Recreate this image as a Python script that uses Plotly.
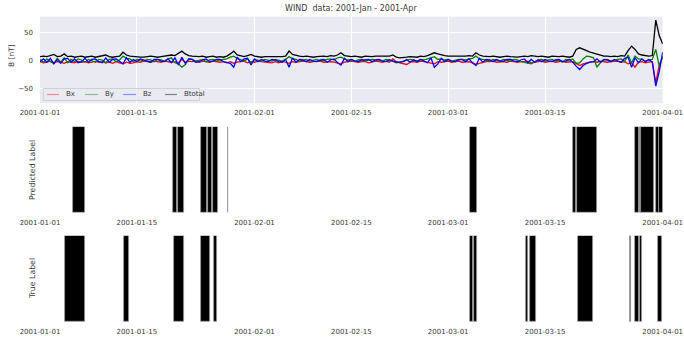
import pandas as pd
import plotly.graph_objects as go

# ---- magnetic field series (12-hour samples, 2001-01-01 .. 2001-04-01) ----
bx = [-2, -4, -3, -1, -4, -2, -3, -5, -2, -3, -4, -1, -3, -2, -4, -3, -1, -3, -2, -4,
      -3, -5, -2, -4, -6, -3, -5, -4, -2, -3, -1, -2, -3, -1, -2, -3, -1, -2, -3, -2,
      -4, 2, -3, -1, -2, -1, -3, -1, -2, -3, -1, -2, -3, -2, -4, -2, -5, -3, -2, -1,
      -4, -2, -3, -1, -2, -3, -3, -4, -2, -4, -1, -3, -5, -2, -3, -2, -1, -2, -3, -2,
      -2, -1, -3, -2, -2, -3, -4, -6, -3, -2, -1, -2, -3, -2, -2, -4, -3, -1, -2, -3,
      -1, -3, 3, -2, -4, -6, -7, -3, -2, -3, -1, -2, -3, -5, -6, -2, -3, -2, -1, -3,
      -2, -1, -3, -2, -2, -4, -7, -5, -3, -2, -2, -1, -3, -2, -2, -3, -1, -2, -3, -2,
      -2, -1, -4, -3, -2, -1, -3, -2, -1, -3, -2, -1, -3, -2, -2, -5, -9, -6, -4, -3,
      -2, -3, -1, -2, -3, -2, -2, -1, -3, -2, -6, -4, -12, -3, -2, -4, -3, -2, -40, -8,
      5]
by = [2, -3, 3, -2, -5, 4, -3, 5, -4, 2, -2, 3, 1, -3, 2, -1, -3, 2, 1, -4,
      2, 3, -2, 1, 8, 4, 3, -2, 2, 1, -1, 2, 1, -2, 2, 1, -1, 3, 5, -4,
      -6, -12, -7, 3, 2, -1, 1, 2, -2, 1, 2, -1, 1, 2, 3, 6, 8, 4, 2, -1,
      3, -4, 2, 1, -1, 2, 1, -1, 2, 1, -1, 2, 7, 3, 2, -1, 1, 2, -1, 1,
      2, -1, 1, 2, 3, 1, 5, 6, 3, 1, 2, -1, 1, 2, -1, 1, 2, 1, 1, -1,
      2, 1, -2, -4, -3, -1, 1, 2, 1, -1, 2, 1, 3, 5, 7, 2, 3, 1, 2, -1,
      1, 2, 2, 1, 3, 4, 8, 3, 2, 1, -1, 2, 1, -1, 2, 1, -1, 2, 1, -2,
      -3, -5, -6, -2, 1, 2, -1, 1, 2, -1, 1, -3, 2, 1, 3, -5, -4, 3, 8, 7,
      5, -12, -4, 1, 2, -1, 1, 2, 3, -2, 10, -4, 8, 3, 2, -1, 1, 2, 20, -10,
      8]
bz = [-2, 3, -3, 4, -6, 2, -5, 3, 4, -3, 3, -4, -2, 4, -3, 2, 3, -2, -4, 5,
      -3, 2, 3, -2, -6, 5, -3, 2, -2, 3, 1, -2, -3, 2, 2, -1, -2, 3, -4, 5,
      -8, 6, -5, 3, 2, -3, -2, 1, 3, -2, -1, 2, 2, -2, -3, -5, -12, 6, -2, 3,
      4, -8, 3, -2, 2, -1, -2, 2, 1, -2, -3, 2, -12, 5, -3, 2, 1, -2, 2, -1,
      -2, 1, 2, -3, 1, 3, -4, -8, 4, -2, 2, -1, -2, 1, 1, 2, -2, 1, 2, -1,
      -2, 1, -1, -3, -3, -2, 2, -3, 1, -2, 2, -1, -4, 5, -12, -6, 4, -2, 2, -1,
      -2, 1, 2, -2, 3, -4, -9, 4, -3, 2, 1, -2, 2, -1, -1, 2, 2, -1, -2, 1,
      3, -4, 2, -3, 1, -2, 2, -1, -2, 1, 2, -2, -1, 2, -3, -10, -16, -9, -5, -3,
      -2, 3, -3, 2, 1, -2, 2, -1, -3, 4, 6, -12, 5, -4, 3, -2, 2, -3, -46, -20,
      15]
btotal = [7, 8, 7, 9, 11, 7, 8, 12, 7, 8, 6, 7, 8, 6, 7, 8, 6, 7, 8, 10,
          7, 6, 7, 8, 15, 10, 8, 7, 7, 6, 6, 7, 8, 7, 6, 7, 8, 9, 10, 9,
          13, 17, 12, 9, 8, 7, 7, 8, 6, 7, 8, 6, 7, 6, 8, 12, 17, 10, 8, 7,
          9, 11, 8, 7, 6, 7, 7, 6, 6, 7, 7, 8, 17, 11, 9, 8, 7, 8, 7, 6,
          7, 8, 8, 7, 9, 8, 10, 14, 9, 8, 7, 8, 7, 6, 8, 7, 7, 8, 8, 7,
          7, 8, 10, 6, 5, 5, 6, 7, 7, 6, 8, 7, 9, 11, 14, 12, 10, 9, 8, 8,
          7, 8, 7, 8, 9, 8, 14, 10, 8, 7, 7, 8, 7, 6, 7, 8, 7, 6, 6, 7,
          8, 7, 9, 8, 7, 8, 7, 6, 8, 7, 7, 8, 7, 6, 8, 20, 23, 21, 18, 15,
          13, 12, 9, 8, 8, 7, 8, 7, 9, 8, 18, 26, 20, 12, 10, 9, 8, 9, 73, 45,
          30]
times = pd.date_range("2001-01-01", periods=len(bx), freq="12h")

# ---- event intervals ----
pred_start = ["2001-01-05 19:40", "2001-01-20 06:30", "2001-01-20 21:35", "2001-01-24 06:30",
              "2001-01-25 06:40", "2001-01-26 01:10", "2001-01-28 04:30", "2001-03-04 03:36",
              "2001-03-18 23:30", "2001-03-19 14:25", "2001-03-27 22:50", "2001-03-28 16:05",
              "2001-03-28 22:20", "2001-03-31 02:25", "2001-03-31 12:00"]
pred_end = ["2001-01-07 12:00", "2001-01-20 19:10", "2001-01-21 20:40", "2001-01-25 04:20",
            "2001-01-25 21:35", "2001-01-26 16:20", "2001-01-28 05:00", "2001-03-05 03:50",
            "2001-03-19 11:00", "2001-03-22 12:00", "2001-03-28 14:25", "2001-03-28 20:25",
            "2001-03-30 16:50", "2001-03-31 10:50", "2001-04-01 00:00"]
true_start = ["2001-01-04 15:50", "2001-01-13 02:25", "2001-01-20 08:53", "2001-01-24 07:12",
              "2001-01-26 02:25", "2001-03-04 03:36", "2001-03-04 16:19", "2001-03-12 05:46",
              "2001-03-12 19:41", "2001-03-19 19:12", "2001-03-27 05:17", "2001-03-27 22:48",
              "2001-03-28 17:17", "2001-03-31 06:29"]
true_end = ["2001-01-07 13:10", "2001-01-13 19:10", "2001-01-21 18:29", "2001-01-25 13:40",
            "2001-01-26 13:55", "2001-03-04 12:43", "2001-03-05 02:38", "2001-03-12 11:31",
            "2001-03-13 17:31", "2001-03-21 23:17", "2001-03-27 09:36", "2001-03-28 14:24",
            "2001-03-28 23:02", "2001-03-31 21:36"]

tick_vals = ["2001-01-01", "2001-01-15", "2001-02-01", "2001-02-15",
             "2001-03-01", "2001-03-15", "2001-04-01"]
title_text = "WIND  data: 2001-Jan - 2001-Apr"

W, H = 684, 337
FONT = "DejaVu Sans"
TXT = "#3a3a3a"

fig = go.Figure()

series = [("Bx", bx, "red", "rgba(255,0,0,0.4)"),
          ("By", by, "green", "rgba(0,128,0,0.4)"),
          ("Bz", bz, "blue", "rgba(0,0,255,0.4)"),
          ("Btotal", btotal, "black", "rgba(0,0,0,0.45)")]
for name, vals, col, lcol in series:
    fig.add_trace(go.Scatter(x=times, y=vals, mode="lines", name=name,
                             line=dict(color=col, width=1.3),
                             showlegend=False, xaxis="x", yaxis="y"))


def add_bars(starts, ends, xa, ya):
    s = pd.to_datetime(starts)
    e = pd.to_datetime(ends)
    widths = [(b - a).total_seconds() * 1000 for a, b in zip(s, e)]
    fig.add_trace(go.Bar(x=list(s), y=[1] * len(s), width=widths, offset=0,
                         marker=dict(color="black", line=dict(color="#999999", width=0.8)),
                         showlegend=False, xaxis=xa, yaxis=ya))


add_bars(pred_start, pred_end, "x2", "y2")
add_bars(true_start, true_end, "x3", "y3")

x0, x1 = 40 / W, 662.7 / W


def ydom(top, bot):
    return [1 - bot / H, 1 - top / H]


xcommon = dict(type="date", range=["2001-01-01", "2001-04-01"], tickvals=tick_vals,
               tickformat="%Y-%m-%d", domain=[x0, x1], ticks="", showline=False,
               zeroline=False, tickfont=dict(size=7, color=TXT, family=FONT),
               ticklabelstandoff=4, automargin=False)

fig.update_layout(
    width=W, height=H, margin=dict(l=0, r=0, t=0, b=0, autoexpand=False),
    paper_bgcolor="white", plot_bgcolor="white",
    font=dict(family=FONT, color=TXT, size=7),
    bargap=0, barmode="overlay", showlegend=False,
    xaxis=dict(**xcommon, anchor="y", showgrid=True, gridcolor="white", gridwidth=1),
    yaxis=dict(domain=ydom(16.7, 103.3), range=[-77, 79], tickvals=[-50, 0, 50],
               showgrid=True, gridcolor="white", gridwidth=1, zeroline=False,
               ticks="", tickfont=dict(size=7, color=TXT, family=FONT),
               ticklabelstandoff=6, anchor="x", automargin=False),
    xaxis2=dict(**xcommon, anchor="y2", showgrid=False),
    yaxis2=dict(domain=ydom(126.7, 212.7), range=[0, 1], visible=False, anchor="x2",
                automargin=False),
    xaxis3=dict(**xcommon, anchor="y3", showgrid=False),
    yaxis3=dict(domain=ydom(235.7, 322), range=[0, 1], visible=False, anchor="x3",
                automargin=False),
)

top_dom = ydom(16.7, 103.3)
fig.add_shape(type="rect", xref="paper", yref="paper", x0=x0, x1=x1,
              y0=top_dom[0], y1=top_dom[1],
              fillcolor="#EAEAF2", line=dict(width=0), layer="below")


def px(xp):
    return xp / W


def py(yp):
    return 1 - yp / H


# ---- legend box (drawn by hand to match the compact layout) ----
fig.add_shape(type="rect", xref="paper", yref="paper", x0=px(43.3), x1=px(199.5),
              y0=py(100.5), y1=py(88.5), fillcolor="rgba(234,234,242,0.85)",
              line=dict(color="#cfcfd6", width=1))
leg_line_x = [(47, 59), (85, 98), (123, 136), (165, 177)]
leg_text_x = [63.5, 102.5, 141, 181.5]
for (name, vals, col, lcol), (lx0, lx1), tx in zip(series, leg_line_x, leg_text_x):
    fig.add_shape(type="line", xref="paper", yref="paper", x0=px(lx0), x1=px(lx1),
                  y0=py(94.5), y1=py(94.5), line=dict(color=lcol, width=1.2))
    fig.add_annotation(text=name, xref="paper", yref="paper", x=px(tx), y=py(94.5),
                       xanchor="left", yanchor="middle", showarrow=False,
                       font=dict(size=7, color=TXT, family=FONT))

fig.add_annotation(text=title_text, xref="paper", yref="paper", x=(x0 + x1) / 2, y=py(8),
                   xanchor="center", yanchor="middle",
                   showarrow=False, font=dict(size=8, color=TXT, family=FONT))
fig.add_annotation(text="B [nT]", xref="paper", yref="paper", x=px(12), y=py(56),
                   xanchor="center", yanchor="middle",
                   textangle=-90, showarrow=False, font=dict(size=7.5, color=TXT, family=FONT))
fig.add_annotation(text="Predicted Label", xref="paper", yref="paper", x=px(32), y=py(170),
                   xanchor="center", yanchor="middle",
                   textangle=-90, showarrow=False, font=dict(size=7.8, color=TXT, family=FONT))
fig.add_annotation(text="True Label", xref="paper", yref="paper", x=px(32), y=py(279),
                   xanchor="center", yanchor="middle",
                   textangle=-90, showarrow=False, font=dict(size=7.8, color=TXT, family=FONT))

fig.write_html("out.html", config={"displayModeBar": False},
               post_script="document.body.style.margin='0';document.body.style.overflow='hidden';")
